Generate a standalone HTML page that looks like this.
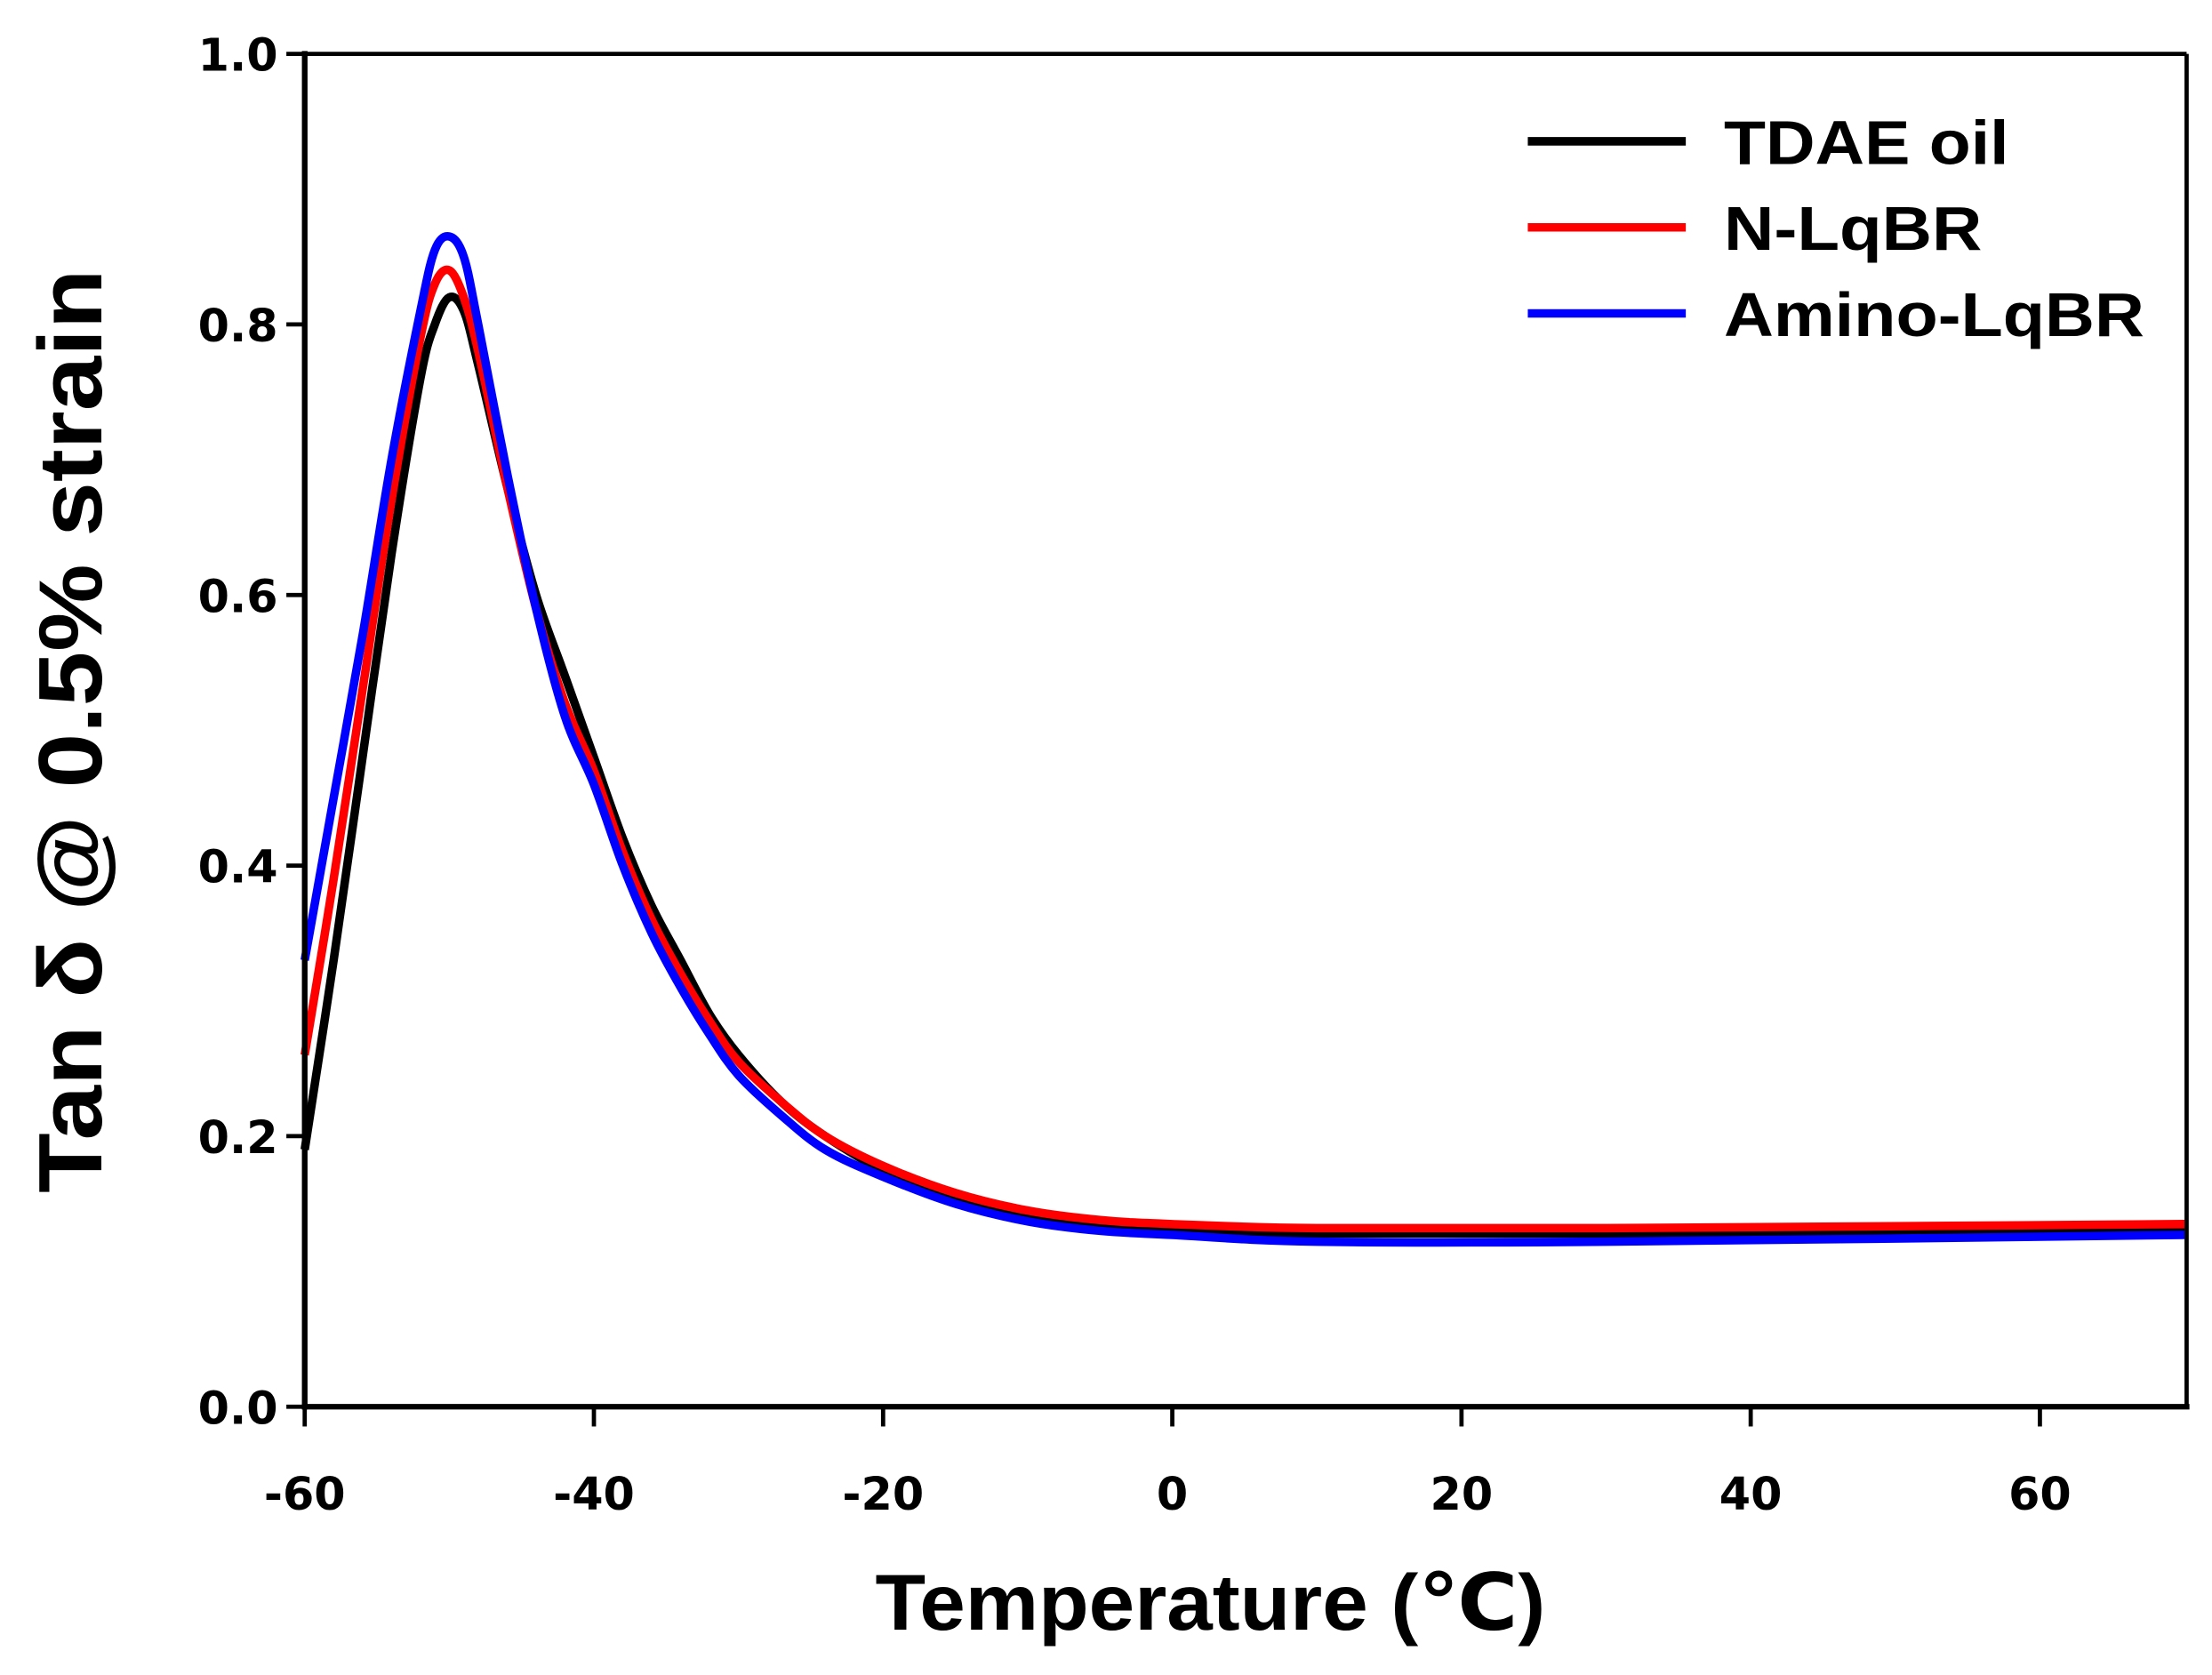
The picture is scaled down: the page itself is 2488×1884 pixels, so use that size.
<!DOCTYPE html>
<html><head><meta charset="utf-8"><style>html,body{margin:0;padding:0;background:#fff}svg{display:block}</style></head>
<body>
<svg id="s" width="2488" height="1884" viewBox="0 0 1568 1187" xmlns="http://www.w3.org/2000/svg" font-family="Liberation Sans, DejaVu Sans, sans-serif" font-weight="bold">
<rect width="1568" height="1187" fill="#fff"/>
<g id="plot"></g>
<line x1="216" y1="38" x2="1550" y2="38" stroke="#000" stroke-width="3"/>
<line x1="1550" y1="38" x2="1550" y2="997" stroke="#000" stroke-width="3"/>
<line x1="216" y1="36" x2="216" y2="999" stroke="#000" stroke-width="4"/>
<line x1="214" y1="997" x2="1552" y2="997" stroke="#000" stroke-width="4"/>
<g id="ticks" stroke="#000" stroke-width="3"></g>
<g font-size="32" text-anchor="end" id="yl" font-family="DejaVu Sans, sans-serif"></g>
<g font-size="32" text-anchor="middle" id="xl" font-family="DejaVu Sans, sans-serif"></g>
<text x="858" y="1155" font-size="56" text-anchor="middle" textLength="475" lengthAdjust="spacingAndGlyphs">Temperature (℃)</text>
<text transform="translate(72,518) rotate(-90)" font-size="64" text-anchor="middle" textLength="655" lengthAdjust="spacingAndGlyphs">Tan δ @ 0.5% strain</text>
<g stroke-width="6">
<line x1="1083" y1="100" x2="1195" y2="100" stroke="#000"/>
<line x1="1083" y1="161" x2="1195" y2="161" stroke="#f00"/>
<line x1="1083" y1="222" x2="1195" y2="222" stroke="#00f"/>
</g>
<g font-size="44">
<text x="1222" y="116" textLength="202" lengthAdjust="spacingAndGlyphs">TDAE oil</text>
<text x="1222" y="177" textLength="183" lengthAdjust="spacingAndGlyphs">N-LqBR</text>
<text x="1222" y="238" textLength="298" lengthAdjust="spacingAndGlyphs">Amino-LqBR</text>
</g>
</svg>
<script>
var NS="http://www.w3.org/2000/svg";
function X(t){return 216+(t+60)*10.25}
function Y(v){return 997-v*959}
var T=[-60,-58,-56,-54,-52,-51,-50,-49,-48,-46,-44,-42,-40,-38,-36,-34,-32,-30,-27,-24,-20,-15,-10,-5,0,10,30,70];
var D={"#000":[.19,.33,.48,.63,.76,.80,.82,.81,.77,.68,.60,.54,.48,.42,.37,.33,.29,.26,.225,.20,.175,.155,.142,.135,.132,.128,.128,.13],
"#f00":[.26,.39,.53,.67,.79,.83,.84,.82,.78,.68,.59,.52,.47,.41,.36,.32,.285,.255,.225,.20,.178,.158,.145,.138,.135,.132,.132,.135],
"#00f":[.33,.45,.57,.70,.81,.855,.865,.85,.80,.69,.59,.51,.46,.40,.35,.31,.275,.245,.215,.19,.17,.15,.137,.13,.127,.122,.122,.127]};
var g=document.getElementById("plot");
for(var c in D){
var P=T.map(function(t,i){return [X(t),Y(D[c][i])]});
var d="M"+P[0][0]+","+P[0][1];
for(var i=0;i<P.length-1;i++){var p0=P[i-1]||P[i],p1=P[i],p2=P[i+1],p3=P[i+2]||P[i+1];
d+=" C"+(p1[0]+(p2[0]-p0[0])/6)+","+(p1[1]+(p2[1]-p0[1])/6)+" "+(p2[0]-(p3[0]-p1[0])/6)+","+(p2[1]-(p3[1]-p1[1])/6)+" "+p2[0]+","+p2[1];}
var p=document.createElementNS(NS,"path");
p.setAttribute("d",d);p.setAttribute("fill","none");p.setAttribute("stroke",c);p.setAttribute("stroke-width","6");p.setAttribute("stroke-linejoin","round");g.appendChild(p);}
var tk=document.getElementById("ticks"),yl=document.getElementById("yl"),xl=document.getElementById("xl");
for(var i=0;i<=5;i++){var v=i*0.2,y=Y(v);
var l=document.createElementNS(NS,"line");l.setAttribute("x1",203);l.setAttribute("x2",216);l.setAttribute("y1",y);l.setAttribute("y2",y);tk.appendChild(l);
var t=document.createElementNS(NS,"text");t.setAttribute("x",197);t.setAttribute("y",y+12);t.textContent=v.toFixed(1);yl.appendChild(t);}
for(var k=-60;k<=60;k+=20){var x=X(k);
var l=document.createElementNS(NS,"line");l.setAttribute("x1",x);l.setAttribute("x2",x);l.setAttribute("y1",997);l.setAttribute("y2",1011);tk.appendChild(l);
var t=document.createElementNS(NS,"text");t.setAttribute("x",x);t.setAttribute("y",1070);t.textContent=k;xl.appendChild(t);}
</script>
</body></html>
